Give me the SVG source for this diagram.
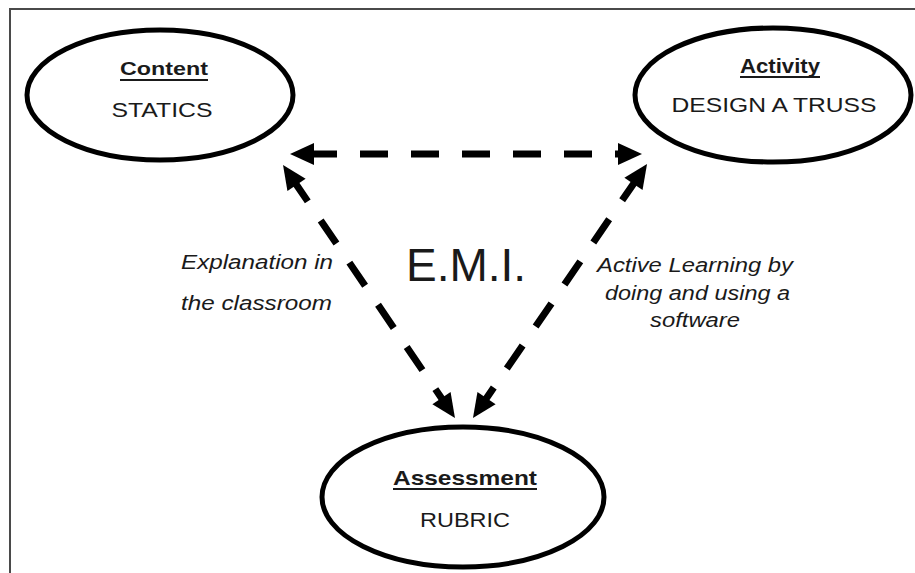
<svg xmlns="http://www.w3.org/2000/svg" width="915" height="573" viewBox="0 0 915 573">
<style>
.frame{fill:none;stroke:#4a4a4a;stroke-width:2}
.node ellipse{fill:#fff;stroke:#000;stroke-width:5}
.t{font-family:"Liberation Sans",Arial,Helvetica,sans-serif;fill:#1a1a1a}
.h{font-weight:bold;font-size:21px;text-anchor:middle}
.s{font-size:21px;text-anchor:middle}
.i{font-style:italic;font-size:20px}
.ul{stroke:#1a1a1a;stroke-width:1.8}
.conn{fill:none;stroke:#000;stroke-width:7;stroke-dasharray:28 23}
</style>
<defs>
<marker id="ah" markerUnits="userSpaceOnUse" viewBox="-2 -14 30 28" markerWidth="30" markerHeight="28" refX="2" refY="0" orient="auto-start-reverse">
<path d="M0,-11 L24,0 L0,11 z" fill="#000"/>
</marker>
</defs>
<rect width="915" height="573" fill="#fff"/>
<path class="frame" d="M10,574 V9 H916"/>
<g id="connectors">
<path class="conn" d="M312,154 H620" stroke-dashoffset="3" marker-start="url(#ah)" marker-end="url(#ah)"/>
<path class="conn" d="M295.4,183.2 L442.6,399.8" stroke-dashoffset="6" marker-start="url(#ah)" marker-end="url(#ah)"/>
<path class="conn" d="M634.6,182.2 L485.4,399.8" stroke-dashoffset="6" marker-start="url(#ah)" marker-end="url(#ah)"/>
</g>
<g id="content" class="node">
<ellipse cx="160" cy="95" rx="133" ry="65"/>
<text class="t h" x="164" y="75" font-size="19" style="font-size:19px" textLength="88" lengthAdjust="spacingAndGlyphs">Content</text>
<line class="ul" x1="120" y1="80" x2="208" y2="80"/>
<text class="t s" x="162" y="117" textLength="101" lengthAdjust="spacingAndGlyphs">STATICS</text>
</g>
<g id="activity" class="node">
<ellipse cx="773" cy="95" rx="138" ry="67"/>
<text class="t h" x="780" y="73" textLength="80" lengthAdjust="spacingAndGlyphs">Activity</text>
<line class="ul" x1="740" y1="77" x2="820" y2="77"/>
<text class="t s" x="774" y="112" textLength="205" lengthAdjust="spacingAndGlyphs">DESIGN A TRUSS</text>
</g>
<g id="assessment" class="node">
<ellipse cx="463" cy="497" rx="141" ry="70"/>
<text class="t h" x="465" y="485" textLength="144" lengthAdjust="spacingAndGlyphs">Assessment</text>
<line class="ul" x1="393" y1="489" x2="537" y2="489"/>
<text class="t s" x="465" y="527" textLength="90" lengthAdjust="spacingAndGlyphs">RUBRIC</text>
</g>
<g id="labels">
<text class="t" x="406" y="281" font-size="46" style="font-size:46px">E.M.I.</text>
<text class="t i" x="181" y="269" textLength="152" lengthAdjust="spacingAndGlyphs">Explanation in</text>
<text class="t i" x="181" y="310" textLength="151" lengthAdjust="spacingAndGlyphs">the classroom</text>
<text class="t i" x="597" y="272" textLength="196" lengthAdjust="spacingAndGlyphs">Active Learning by</text>
<text class="t i" x="605" y="300" textLength="185" lengthAdjust="spacingAndGlyphs">doing and using a</text>
<text class="t i" x="650" y="327" textLength="90" lengthAdjust="spacingAndGlyphs">software</text>
</g>
</svg>
